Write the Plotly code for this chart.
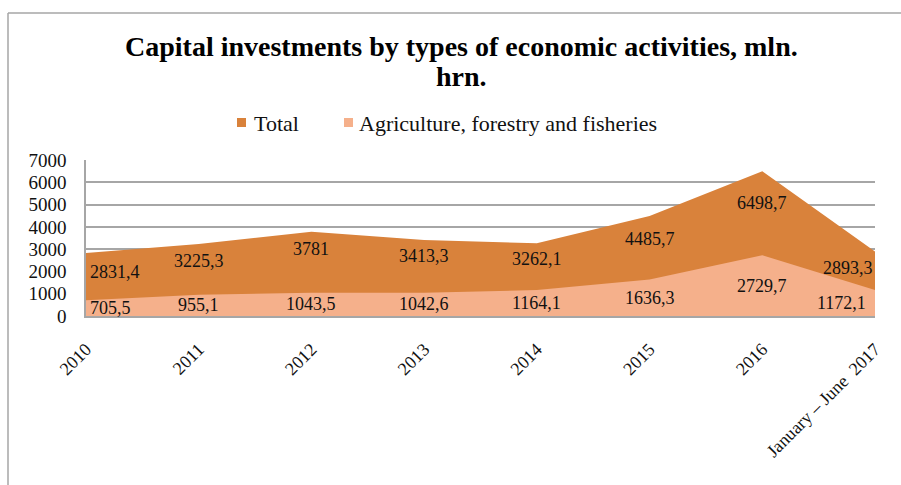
import plotly.graph_objects as go

# Capital investments, mln. hrn.
periods = ["2010", "2011", "2012", "2013", "2014", "2015", "2016",
           "January – June\u00a0\u00a02017"]
total = [2831.4, 3225.3, 3781.0, 3413.3, 3262.1, 4485.7, 6498.7, 2893.3]
agriculture = [705.5, 955.1, 1043.5, 1042.6, 1164.1, 1636.3, 2729.7, 1172.1]

# vertical pixel drop of the "Total" labels below each data point
total_label_drop = [19, 17, 17, 16, 16, 23, 32, 16]

TOTAL_COLOR = "#D9823B"
AGRI_COLOR = "#F5B08B"
GRID = "#A6A6A6"
SERIF = "Liberation Serif, Times New Roman, serif"

W, H = 901, 485
L, R, T, B = 86, 26, 160, 169
pw, ph = W - L - R, H - T - B


def px_x(x):
    return (x - L) / pw


def px_y(y):
    return (H - B - y) / ph


def fmt(v):
    s = f"{v:.1f}".replace(".", ",")
    return s[:-2] if s.endswith(",0") else s


xs = list(range(len(periods)))

fig = go.Figure()
fig.add_trace(go.Scatter(x=xs, y=total, mode="lines", fill="tozeroy",
                         line=dict(width=0, color=TOTAL_COLOR),
                         fillcolor=TOTAL_COLOR, name="Total",
                         hoverinfo="skip", showlegend=False))
fig.add_trace(go.Scatter(x=xs, y=agriculture, mode="lines", fill="tozeroy",
                         line=dict(width=0, color=AGRI_COLOR),
                         fillcolor=AGRI_COLOR,
                         name="Agriculture, forestry and fisheries",
                         hoverinfo="skip", showlegend=False))

annotations = []
n = len(periods)
for i, (tv, av) in enumerate(zip(total, agriculture)):
    if i == 0:
        xa, xs_t, xs_a = "left", 2, 2
    elif i == n - 1:
        xa, xs_t, xs_a = "right", 0, -7
    else:
        xa, xs_t, xs_a = "center", 0, 0
    annotations.append(dict(x=i, y=tv, xref="x", yref="y", text=fmt(tv),
                            showarrow=False, xanchor=xa, yanchor="middle",
                            xshift=xs_t, yshift=-total_label_drop[i],
                            font=dict(family=SERIF, size=18, color="#111111")))
    annotations.append(dict(x=i, y=av / 2, xref="x", yref="y", text=fmt(av),
                            showarrow=False, xanchor=xa, yanchor="middle",
                            xshift=xs_a,
                            font=dict(family=SERIF, size=18, color="#111111")))

# title, two lines
for line_text, cy in (("Capital investments by types of economic activities, mln.", 47),
                      ("hrn.", 77)):
    annotations.append(dict(x=px_x(461), y=px_y(cy), xref="paper", yref="paper",
                            text=f"<b>{line_text}</b>",
                            showarrow=False, xanchor="center", yanchor="middle",
                            font=dict(family=SERIF, size=28, color="#000000")))

# legend entries
legend_items = [("Total", TOTAL_COLOR, 237, 252), ("Agriculture, forestry and fisheries", AGRI_COLOR, 344, 357)]
shapes = []
for label, color, sx, tx in legend_items:
    shapes.append(dict(type="rect", xref="paper", yref="paper",
                       x0=px_x(sx), x1=px_x(sx + 9), y0=px_y(127), y1=px_y(118),
                       fillcolor=color, line=dict(width=0)))
    annotations.append(dict(x=px_x(tx), y=px_y(124), xref="paper", yref="paper",
                            text=label, showarrow=False, xanchor="left", yanchor="middle",
                            font=dict(family=SERIF, size=22, color="#111111")))

# outer chart frame
shapes.append(dict(type="line", xref="paper", yref="paper",
                   x0=px_x(8), x1=px_x(8), y0=px_y(H + 5), y1=px_y(13),
                   line=dict(color=GRID, width=1.5)))
shapes.append(dict(type="line", xref="paper", yref="paper",
                   x0=px_x(8), x1=px_x(W + 5), y0=px_y(13), y1=px_y(13),
                   line=dict(color=GRID, width=1.5)))

fig.update_layout(
    width=W, height=H,
    margin=dict(l=L, r=R, t=T, b=B, autoexpand=False),
    paper_bgcolor="white", plot_bgcolor="white",
    showlegend=False,
    annotations=annotations,
    shapes=shapes,
    xaxis=dict(range=[0, n - 1], tickvals=xs, ticktext=periods, tickangle=-45,
               showgrid=False, zeroline=False, showline=True, linecolor=GRID,
               linewidth=1.5, ticks="", ticklabelstandoff=14,
               tickfont=dict(family=SERIF, size=18, color="#111111"),
               fixedrange=True),
    yaxis=dict(range=[0, 7000], tickvals=list(range(0, 7001, 1000)),
               showgrid=True, gridcolor=GRID, gridwidth=1.5, zeroline=False,
               showline=True, linecolor=GRID, linewidth=1.5, ticks="",
               ticklabelstandoff=14,
               tickfont=dict(family=SERIF, size=19, color="#111111"),
               fixedrange=True),
)

fig.write_html("out.html")
